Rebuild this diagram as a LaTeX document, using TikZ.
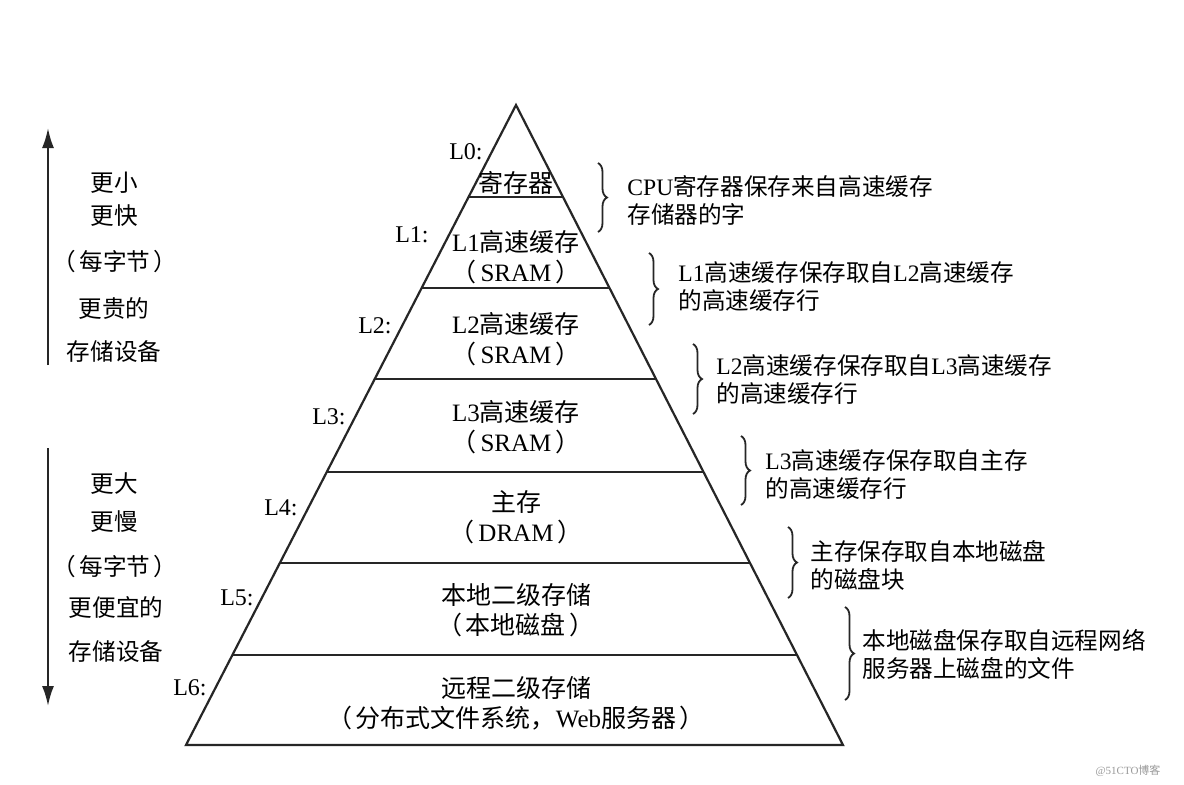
\documentclass[tikz,border=0pt]{standalone}
\usepackage{fontspec}
\setmainfont{Liberation Serif}
\newfontfamily\cjk{Noto Sans CJK SC}
\newcommand{\zhtext}[1]{{\cjk #1}}
\newcommand{\lpar}{\zhtext{（}\hspace{0.15em}}
\newcommand{\rpar}{\hspace{0.15em}\zhtext{）}}
\usetikzlibrary{positioning,arrows.meta,calc,decorations.pathreplacing}
\tikzset{
    level/.style = {
        line width=1.1pt,
        color=black!85
    },
    layer/.style = {
        align=center,
        inner sep=0pt,
        font=\fontsize{12.5}{15}\selectfont
    },
    tag/.style = {
        anchor=east,
        inner sep=0pt,
        font=\fontsize{12}{14}\selectfont
    },
    note/.style = {
        anchor=west,
        align=left,
        inner sep=0pt,
        font=\fontsize{11.8}{14}\selectfont
    },
    side/.style = {
        inner sep=0pt,
        font=\fontsize{11.8}{14}\selectfont
    },
    cbrace/.style = {
        decorate,
        decoration={brace, amplitude=4.5pt},
        line width=0.9pt,
        color=black!85
    },
    >={Latex[length=10pt,width=6pt]},
}

\begin{document}
\begin{tikzpicture}[x=0.5pt,y=-0.5pt]
                \useasboundingbox[fill=white] (0,0) rectangle (1184,784);

                % pyramid
                \coordinate (apex) at (516,105);
                \coordinate (bl) at (186,745);
                \coordinate (br) at (843,745);
                \path[draw, level] (apex) -- (bl) -- (br) -- cycle;
                \path[draw, level] ($(apex)!0.144!(bl)$) -- ($(apex)!0.144!(br)$);
                \path[draw, level] ($(apex)!0.286!(bl)$) -- ($(apex)!0.286!(br)$);
                \path[draw, level] ($(apex)!0.428!(bl)$) -- ($(apex)!0.428!(br)$);
                \path[draw, level] ($(apex)!0.573!(bl)$) -- ($(apex)!0.573!(br)$);
                \path[draw, level] ($(apex)!0.716!(bl)$) -- ($(apex)!0.716!(br)$);
                \path[draw, level] ($(apex)!0.859!(bl)$) -- ($(apex)!0.859!(br)$);

                \node[layer] (regs) at (516,183) {\zhtext{寄存器}};
                \node[layer] (lone) at (516,257) {L1\zhtext{高速缓存}\\\lpar SRAM\rpar};
                \node[layer] (ltwo) at (516,339) {L2\zhtext{高速缓存}\\\lpar SRAM\rpar};
                \node[layer] (lthree) at (516,427) {L3\zhtext{高速缓存}\\\lpar SRAM\rpar};
                \node[layer] (dram) at (516,517) {\zhtext{主存}\\\lpar DRAM\rpar};
                \node[layer] (disk) at (516,610) {\zhtext{本地二级存储}\\\lpar\zhtext{本地磁盘}\rpar};
                \node[layer] (remote) at (516,703) {\zhtext{远程二级存储}\\\lpar\zhtext{分布式文件系统，}Web\zhtext{服务器}\rpar};

                \node[tag] (tzero) at (483,152) {L0:};
                \node[tag] (tone) at (429,235) {L1:};
                \node[tag] (ttwo) at (392,326) {L2:};
                \node[tag] (tthree) at (346,417) {L3:};
                \node[tag] (tfour) at (298,508) {L4:};
                \node[tag] (tfive) at (254,598) {L5:};
                \node[tag] (tsix) at (207,688) {L6:};

                % braces and notes
                \coordinate (bzerotop) at (598,163);
                \coordinate (bzerobot) at (598,232);
                \coordinate (bonetop) at (649,253);
                \coordinate (bonebot) at (649,325);
                \coordinate (btwotop) at (693,344);
                \coordinate (btwobot) at (693,414);
                \coordinate (bthreetop) at (741,436);
                \coordinate (bthreebot) at (741,505);
                \coordinate (bfourtop) at (788,527);
                \coordinate (bfourbot) at (788,598);
                \coordinate (bfivetop) at (845,607);
                \coordinate (bfivebot) at (845,700);
                \path[draw, cbrace] (bzerotop) -- (bzerobot);
                \path[draw, cbrace] (bonetop) -- (bonebot);
                \path[draw, cbrace] (btwotop) -- (btwobot);
                \path[draw, cbrace] (bthreetop) -- (bthreebot);
                \path[draw, cbrace] (bfourtop) -- (bfourbot);
                \path[draw, cbrace] (bfivetop) -- (bfivebot);

                \node[note] (nzero) at (627,200) {CPU\zhtext{寄存器保存来自高速缓存}\\\zhtext{存储器的字}};
                \node[note] (none) at (678,287) {L1\zhtext{高速缓存保存取自}L2\zhtext{高速缓存}\\\zhtext{的高速缓存行}};
                \node[note] (ntwo) at (716,380) {L2\zhtext{高速缓存保存取自}L3\zhtext{高速缓存}\\\zhtext{的高速缓存行}};
                \node[note] (nthree) at (765,475) {L3\zhtext{高速缓存保存取自主存}\\\zhtext{的高速缓存行}};
                \node[note] (nfour) at (810,565) {\zhtext{主存保存取自本地磁盘}\\\zhtext{的磁盘块}};
                \node[note] (nfive) at (862,654) {\zhtext{本地磁盘保存取自远程网络}\\\zhtext{服务器上磁盘的文件}};

                % left side
                \coordinate (upfoot) at (48,365);
                \coordinate (uphead) at (48,128);
                \coordinate (downfoot) at (48,448);
                \coordinate (downhead) at (48,706);
                \path[draw, level, ->] (upfoot) -- (uphead);
                \path[draw, level, ->] (downfoot) -- (downhead);

                \node[side] (small) at (114,183) {\zhtext{更小}};
                \node[side] (fast) at (114,216) {\zhtext{更快}};
                \node[side] (perone) at (115,262) {\lpar\zhtext{每字节}\rpar};
                \node[side] (dear) at (114,308) {\zhtext{更贵的}};
                \node[side] (devone) at (114,352) {\zhtext{存储设备}};
                \node[side] (large) at (114,484) {\zhtext{更大}};
                \node[side] (slow) at (114,522) {\zhtext{更慢}};
                \node[side] (pertwo) at (115,567) {\lpar\zhtext{每字节}\rpar};
                \node[side] (cheap) at (116,607) {\zhtext{更便宜的}};
                \node[side] (devtwo) at (116,652) {\zhtext{存储设备}};

                \node[text=black!40, font=\fontsize{5.5}{6}\selectfont] (mark) at (1128,771) {@51CTO\zhtext{博客}};
            \end{tikzpicture}
\end{document}
